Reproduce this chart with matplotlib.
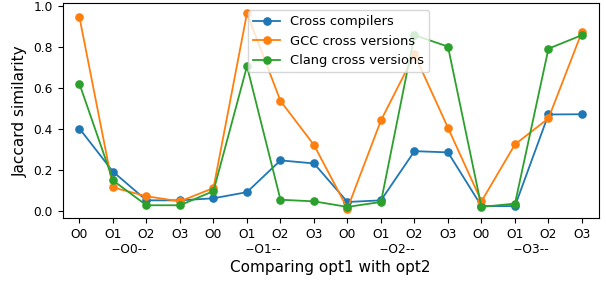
import numpy as np
import matplotlib; matplotlib.use("Agg")
import matplotlib.pyplot as plt
import matplotlib.transforms as mtrans

OPT = ["O0", "O1", "O2", "O3"]
GROUPS = ["--O0--", "--O1--", "--O2--", "--O3--"]
tick_labels = OPT * 4

cross_compilers = [0.40, 0.19, 0.05, 0.05, 0.06, 0.09, 0.245, 0.23,
                   0.042, 0.05, 0.29, 0.284, 0.022, 0.022, 0.469, 0.47]
gcc_versions = [0.943, 0.113, 0.07, 0.045, 0.11, 0.963, 0.535, 0.32,
                0.01, 0.44, 0.762, 0.404, 0.045, 0.323, 0.45, 0.872]
clang_versions = [0.618, 0.147, 0.026, 0.026, 0.095, 0.704, 0.053, 0.045,
                  0.018, 0.042, 0.856, 0.80, 0.018, 0.034, 0.79, 0.856]

fig = plt.figure(figsize=(6.06, 2.85), dpi=100)
ax = fig.add_axes([0.1035, 0.234, 0.8845, 0.754])
x = np.arange(len(tick_labels))
kw = dict(marker="o", markersize=5.2, linewidth=1.3)
ax.plot(x, cross_compilers, label="Cross compilers", **kw)
ax.plot(x, gcc_versions, label="GCC cross versions", **kw)
ax.plot(x, clang_versions, label="Clang cross versions", **kw)

ax.set_xlim(-0.5, 15.5)
ax.set_xticks(x)
ax.set_xticklabels(tick_labels, fontsize=8.8)
ax.tick_params(axis="y", labelsize=8.8)
ax.set_ylabel("Jaccard similarity", fontsize=11)
ax.set_xlabel("Comparing opt1 with opt2", fontsize=11)
ax.xaxis.set_label_coords(0.5, -0.195)

tr = mtrans.blended_transform_factory(ax.transData, ax.transAxes)
for i, g in enumerate(GROUPS):
    ax.text(4 * i + 1.5, -0.143, g, transform=tr, ha="center", va="center", fontsize=8.8)

ax.legend(loc="upper center", bbox_to_anchor=(0.515, 1.0), fontsize=9.4)
fig.savefig("out.png", dpi=100)
